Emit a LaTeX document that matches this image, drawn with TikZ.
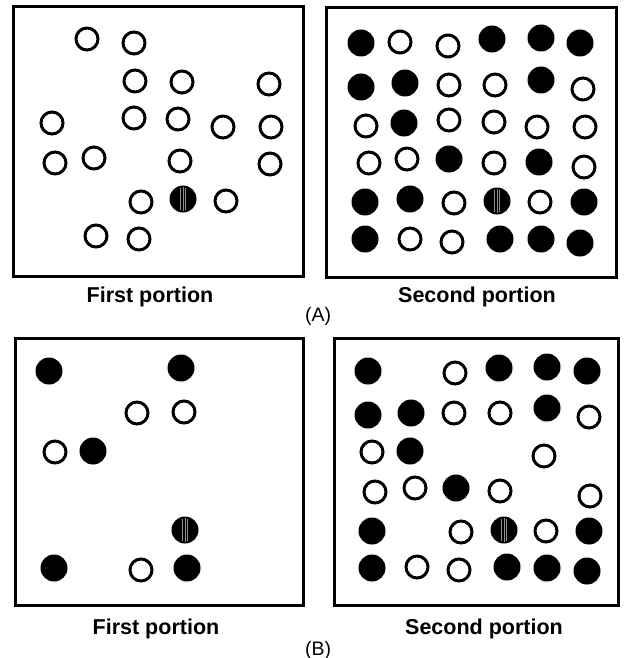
\documentclass[tikz,border=0pt]{standalone}
\usepackage{fontspec}
\setmainfont{Liberation Sans}
\begin{document}
\begin{tikzpicture}[x=1pt,y=-1pt,
  oc/.style={circle,draw=black,line width=3pt,fill=white,minimum size=22pt,inner sep=0pt},
  fc/.style={circle,fill=black,minimum size=27pt,inner sep=0pt},
  panel/.style={draw=black,line width=3pt},
  stripe/.style={black!45,line width=0.4pt},
  lbl/.style={font=\fontsize{21.5}{25}\selectfont\bfseries,inner sep=0pt},
  tag/.style={font=\fontsize{19.5}{22}\selectfont,inner sep=0pt}]
\useasboundingbox[fill=white] (0,0) rectangle (624,658);
% ---------- (A) first portion ----------
\draw[panel] (13,7) rectangle (303,276);
\foreach \x/\y [count=\i] in {87/39,134/43,135/81,182/82,269/84,52/123,134/118,178/119,223/127,271/127,55/163,94/158,180/161,270/164,141/202,226/201,96/236,139/239}
  \node[oc] (ao\i) at (\x,\y) {};
\node[fc] (af1) at (183,199) {};
\draw[stripe] (af1.center)++(-3,-11)--++(0,22) (af1.center)++(0,-12)--++(0,24) (af1.center)++(2.5,-11)--++(0,22);
% ---------- (A) second portion ----------
\draw[panel] (326,8) rectangle (616,277);
\foreach \x/\y [count=\i] in {400/42,448/46,449/85,495/85,583/89,366/126,449/120,494/122,537/127,585/127,369/163,407/159,494/163,584/167,454/203,540/202,410/239,452/242}
  \node[oc] (bo\i) at (\x,\y) {};
\foreach \x/\y [count=\i] in {361/43,492/39,541/38,580/43,361/87,405/83,541/80,404/123,449/159,539/162,365/202,410/199,584/202,365/239,500/239,541/239,580/243,497/201}
  \node[fc] (bf\i) at (\x,\y) {};
\draw[stripe] (bf18.center)++(-3,-11)--++(0,22) (bf18.center)++(0,-12)--++(0,24) (bf18.center)++(2.5,-11)--++(0,22);
\node[lbl] (la1) at (150,297) {First portion};
\node[lbl] (la2) at (477,297) {Second portion};
\node[tag] (ta) at (318,316) {(A)};
% ---------- (B) first portion ----------
\draw[panel] (15,338) rectangle (303,605);
\foreach \x/\y [count=\i] in {137/413,184/412,55/452,141/570}
  \node[oc] (co\i) at (\x,\y) {};
\foreach \x/\y [count=\i] in {49/371,181/368,93/451,54/568,187/568,185/530}
  \node[fc] (cf\i) at (\x,\y) {};
\draw[stripe] (cf6.center)++(-3,-11)--++(0,22) (cf6.center)++(0,-12)--++(0,24) (cf6.center)++(2.5,-11)--++(0,22);
% ---------- (B) second portion ----------
\draw[panel] (334,338) rectangle (618,605);
\foreach \x/\y [count=\i] in {455/373,454/413,500/413,589/417,372/452,544/456,375/492,415/488,500/491,590/496,461/532,546/531,417/567,459/570}
  \node[oc] (do\i) at (\x,\y) {};
\foreach \x/\y [count=\i] in {368/371,499/368,547/367,587/371,368/415,411/413,547/408,410/451,456/488,372/531,589/531,372/568,507/567,547/568,587/571,504/530}
  \node[fc] (df\i) at (\x,\y) {};
\draw[stripe] (df16.center)++(-3,-11)--++(0,22) (df16.center)++(0,-12)--++(0,24) (df16.center)++(2.5,-11)--++(0,22);
\node[lbl] (lb1) at (156,629) {First portion};
\node[lbl] (lb2) at (484,629) {Second portion};
\node[tag] (tb) at (318,650) {(B)};
\end{tikzpicture}
\end{document}
